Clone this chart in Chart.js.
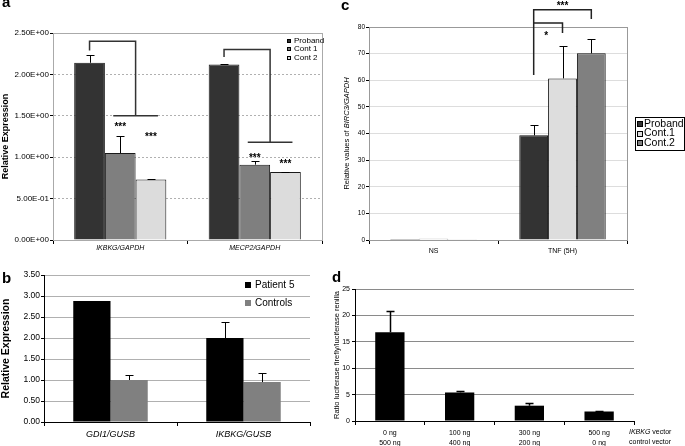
<!DOCTYPE html>
<html>
<head>
<meta charset="utf-8">
<script src="https://cdn.jsdelivr.net/npm/chart.js@4/dist/chart.umd.min.js"></script>
<style>
body { margin: 0; width: 685px; height: 446px; position: relative; overflow: hidden; background: #fff; font-family: "Liberation Sans", Arial, sans-serif; }
.panel { position: absolute; }
.tag { position: absolute; font-weight: bold; font-size: 15px; line-height: 15px; }
</style>
</head>
<body>
<div class="panel" style="left:0;top:0;width:330px;height:260px"><canvas id="chartA"></canvas></div>
<div class="panel" style="left:330px;top:0;width:355px;height:260px"><canvas id="chartC"></canvas></div>
<div class="panel" style="left:0;top:260px;width:330px;height:186px"><canvas id="chartB"></canvas></div>
<div class="panel" style="left:330px;top:260px;width:355px;height:186px"><canvas id="chartD"></canvas></div>
<div class="tag" style="left:2px;top:-6px">a</div>
<div class="tag" style="left:2px;top:270px">b</div>
<div class="tag" style="left:341px;top:-3px">c</div>
<div class="tag" style="left:332px;top:269px">d</div>
<script>
// panel a
const A_CATS = ["IKBKG/GAPDH", "MECP2/GAPDH"];
const A_PROBAND = [2.14, 2.12];
const A_PROBAND_ERR = [0.09, 0.005];
const A_CONT1 = [1.05, 0.91];
const A_CONT1_ERR = [0.21, 0.04];
const A_CONT2 = [0.73, 0.82];
const A_CONT2_ERR = [0.005, 0.005];
const A_TICKS = [0, 0.5, 1, 1.5, 2, 2.5];
const A_BRACKET_TOP = [2.40, 2.30];
const A_BRACKET_STUB = [2.29, 2.21];
const A_BRACKET_LOW = [1.50, 1.18];
const A_STARS_CONT1 = [1.36, 0.99];
const A_STARS_CONT2 = [1.24, 0.91];

// panel b
const B_CATS = ["GDI1/GUSB", "IKBKG/GUSB"];
const B_PATIENT = [2.88, 2.00];
const B_PATIENT_ERR = [0, 0.38];
const B_CONTROLS = [1.00, 0.95];
const B_CONTROLS_ERR = [0.12, 0.21];
const B_TICKS = [0, 0.5, 1, 1.5, 2, 2.5, 3, 3.5];

// panel c
const C_CATS = ["NS", "TNF (5H)"];
const C_PROBAND = [0.4, 39.3];
const C_PROBAND_ERR = [0, 3.9];
const C_CONT1 = [0.5, 60.7];
const C_CONT1_ERR = [0, 12.1];
const C_CONT2 = [0.3, 70.1];
const C_CONT2_ERR = [0, 5.5];
const C_TICKS = [0, 10, 20, 30, 40, 50, 60, 70, 80];
const C_BRACKET_START = 62;
const C_BRACKET_OUTER = [86.5, 83];
const C_BRACKET_INNER = [81.5, 77.7];

// panel d
const D_CATS = [["0 ng", "500 ng"], ["100 ng", "400 ng"], ["300 ng", "200 ng"], ["500 ng", "0 ng"]];
const D_RATIO = [16.8, 5.4, 2.9, 1.8];
const D_ERR = [4.0, 0.2, 0.5, 0.05];
const D_TICKS = [0, 5, 10, 15, 20, 25];

const FONT = '"Liberation Sans", Arial, sans-serif';
Chart.defaults.font.family = FONT;
Chart.defaults.color = "#000";
Chart.defaults.animation = false;
Chart.defaults.plugins.legend.display = false;
Chart.defaults.plugins.tooltip.enabled = false;

function sci(v) {
    if (v === 0) return "0.00E+00";
    const e = Math.floor(Math.log10(v) + 1e-9);
    const m = v / Math.pow(10, e);
    return m.toFixed(2) + "E" + (e < 0 ? "-" : "+") + String(Math.abs(e)).padStart(2, "0");
}

function fixTicks(list) {
    return function (scale) {
        scale.ticks = list.map(v => ({ value: v }));
    };
}

const errorBars = {
    id: "errorBars",
    afterDatasetsDraw(chart, args, opts) {
        const ctx = chart.ctx, y = chart.scales.y;
        ctx.save();
        ctx.strokeStyle = "#000";
        ctx.lineWidth = opts.width || 1;
        chart.data.datasets.forEach((ds, i) => {
            if (!ds.errors) return;
            chart.getDatasetMeta(i).data.forEach((bar, j) => {
                const e = ds.errors[j];
                if (!e) return;
                const x = Math.round(bar.x) + 0.5;
                const top = Math.round(y.getPixelForValue(ds.data[j] + e)) + 0.5;
                ctx.beginPath();
                ctx.moveTo(x, bar.y);
                ctx.lineTo(x, top);
                ctx.moveTo(x - opts.cap, top);
                ctx.lineTo(x + opts.cap, top);
                ctx.stroke();
            });
        });
        ctx.restore();
    }
};

const frame = {
    id: "frame",
    beforeDatasetsDraw(chart, args, opts) {
        if (!opts.color) return;
        const { left, top, right, bottom } = chart.chartArea;
        const ctx = chart.ctx;
        ctx.save();
        ctx.strokeStyle = opts.color;
        ctx.lineWidth = 1;
        ctx.strokeRect(Math.round(left) + 0.5, Math.round(top) + 0.5, Math.round(right - left), Math.round(bottom - top));
        ctx.restore();
    }
};

const boxLegend = {
    id: "boxLegend",
    afterDraw(chart, args, o) {
        if (!o.x) return;
        const ctx = chart.ctx;
        ctx.save();
        ctx.font = o.font;
        ctx.textBaseline = "middle";
        ctx.lineWidth = 1;
        if (o.frame) {
            ctx.strokeStyle = "#000";
            ctx.strokeRect(o.frame[0] + 0.5, o.frame[1] + 0.5, o.frame[2], o.frame[3]);
        }
        chart.data.datasets.forEach((ds, i) => {
            const yy = o.y + i * o.gap;
            ctx.fillStyle = ds.backgroundColor;
            ctx.fillRect(o.x, Math.round(yy - o.box / 2), o.box, o.box);
            if (o.stroke) {
                ctx.strokeStyle = "#000";
                ctx.strokeRect(o.x + 0.5, Math.round(yy - o.box / 2) + 0.5, o.box - 1, o.box - 1);
            }
            ctx.fillStyle = "#000";
            ctx.fillText(ds.label, o.x + o.box + o.pad, yy);
        });
        ctx.restore();
    }
};

// panel a brackets and stars
const bracketsA = {
    id: "bracketsA",
    afterDatasetsDraw(chart) {
        const ctx = chart.ctx, y = chart.scales.y;
        const p = chart.getDatasetMeta(0).data;
        const c1 = chart.getDatasetMeta(1).data;
        const c2 = chart.getDatasetMeta(2).data;
        ctx.save();
        ctx.strokeStyle = "#333";
        ctx.lineWidth = 1.5;
        ctx.fillStyle = "#000";
        ctx.font = "bold 10px " + FONT;
        ctx.textAlign = "center";
        ctx.textBaseline = "middle";
        A_CATS.forEach((_, i) => {
            const x0 = p[i].x;
            const xm = (c1[i].x + c2[i].x) / 2;
            const yt = y.getPixelForValue(A_BRACKET_TOP[i]);
            const ys = y.getPixelForValue(A_BRACKET_STUB[i]);
            const yb = y.getPixelForValue(A_BRACKET_LOW[i]);
            ctx.beginPath();
            ctx.moveTo(x0, ys);
            ctx.lineTo(x0, yt);
            ctx.lineTo(xm, yt);
            ctx.lineTo(xm, yb);
            ctx.moveTo(c1[i].x - 7, yb);
            ctx.lineTo(c2[i].x + 7, yb);
            ctx.stroke();
            ctx.fillText("***", c1[i].x, y.getPixelForValue(A_STARS_CONT1[i]));
            ctx.fillText("***", c2[i].x, y.getPixelForValue(A_STARS_CONT2[i]));
        });
        ctx.restore();
    }
};

// panel c brackets, stars and mixed-style y title
const bracketsC = {
    id: "bracketsC",
    afterDatasetsDraw(chart) {
        const ctx = chart.ctx, y = chart.scales.y;
        const i = 1;
        const xp = chart.getDatasetMeta(0).data[i].x;
        const x1 = chart.getDatasetMeta(1).data[i].x;
        const x2 = chart.getDatasetMeta(2).data[i].x;
        ctx.save();
        ctx.strokeStyle = "#222";
        ctx.lineWidth = 1.5;
        ctx.beginPath();
        ctx.moveTo(xp, y.getPixelForValue(C_BRACKET_START));
        ctx.lineTo(xp, y.getPixelForValue(C_BRACKET_OUTER[0]));
        ctx.lineTo(x2, y.getPixelForValue(C_BRACKET_OUTER[0]));
        ctx.lineTo(x2, y.getPixelForValue(C_BRACKET_OUTER[1]));
        ctx.moveTo(xp, y.getPixelForValue(C_BRACKET_INNER[0]));
        ctx.lineTo(x1, y.getPixelForValue(C_BRACKET_INNER[0]));
        ctx.lineTo(x1, y.getPixelForValue(C_BRACKET_INNER[1]));
        ctx.stroke();
        ctx.fillStyle = "#000";
        ctx.font = "bold 10px " + FONT;
        ctx.textAlign = "center";
        ctx.textBaseline = "middle";
        ctx.fillText("***", (xp + x2) / 2, y.getPixelForValue(C_BRACKET_OUTER[0]) - 3);
        ctx.fillText("*", (xp + x1) / 2 - 2, y.getPixelForValue(C_BRACKET_INNER[1]) + 3);

        // y title: "Relative values of " + italic "BIRC3/GAPDH"
        const t1 = "Relative values of ", t2 = "BIRC3/GAPDH";
        const f1 = "7.5px " + FONT, f2 = "italic 7.5px " + FONT;
        ctx.font = f1;
        const w1 = ctx.measureText(t1).width;
        ctx.font = f2;
        const w2 = ctx.measureText(t2).width;
        const cy = (chart.chartArea.top + chart.chartArea.bottom) / 2;
        ctx.translate(17, cy);
        ctx.rotate(-Math.PI / 2);
        ctx.textAlign = "left";
        ctx.font = f1;
        ctx.fillText(t1, -(w1 + w2) / 2, 0);
        ctx.font = f2;
        ctx.fillText(t2, -(w1 + w2) / 2 + w1, 0);
        ctx.restore();
    }
};

// panel d right-hand row captions
const rowCaptionsD = {
    id: "rowCaptionsD",
    afterDraw(chart) {
        const ctx = chart.ctx;
        const x = chart.chartArea.right - 5;
        const y0 = chart.chartArea.bottom + 11;
        ctx.save();
        ctx.fillStyle = "#000";
        ctx.textBaseline = "middle";
        ctx.font = "italic 7px " + FONT;
        ctx.fillText("IKBKG", x, y0);
        const w = ctx.measureText("IKBKG ").width;
        ctx.font = "7px " + FONT;
        ctx.fillText("vector", x + w, y0);
        ctx.fillText("control vector", x, y0 + 10);
        ctx.restore();
    }
};

new Chart(document.getElementById("chartA"), {
    type: "bar",
    data: {
        labels: A_CATS,
        datasets: [
            { label: "Proband", data: A_PROBAND, errors: A_PROBAND_ERR, backgroundColor: "#333333", borderColor: "#1a1a1a", borderWidth: 1 },
            { label: "Cont 1", data: A_CONT1, errors: A_CONT1_ERR, backgroundColor: "#7f7f7f", borderColor: "#1a1a1a", borderWidth: 1 },
            { label: "Cont 2", data: A_CONT2, errors: A_CONT2_ERR, backgroundColor: "#dcdcdc", borderColor: "#1a1a1a", borderWidth: 1 },
        ],
    },
    options: {
        responsive: true,
        maintainAspectRatio: false,
        layout: { padding: { left: 0, right: 8, top: 33, bottom: 0 } },
        datasets: { bar: { categoryPercentage: 0.685, barPercentage: 1 } },
        scales: {
            x: {
                afterFit(s) { s.height = 20; },
                grid: { offset: true, drawOnChartArea: false, tickLength: 4, tickColor: "#000" },
                border: { color: "#000" },
                ticks: { padding: 0, font: { size: 7, style: "italic" } },
            },
            y: {
                min: 0, max: 2.5,
                afterBuildTicks: fixTicks(A_TICKS),
                afterFit(s) { s.width = 53; },
                grid: { color: "#b0b0b0", tickColor: "#000", tickLength: 3, tickBorderDash: [] },
                border: { color: "#000", dash: [2, 2] },
                ticks: { padding: 1, font: { size: 8 }, callback: v => sci(v) },
                title: { display: true, text: "Relative Expression", padding: 0, font: { size: 9, weight: "bold" } },
            },
        },
        plugins: {
            errorBars: { cap: 4 },
            frame: { color: "#aaaaaa" },
            boxLegend: { x: 287, y: 40.5, gap: 8.5, box: 4, pad: 3, stroke: true, font: "8px " + FONT },
        },
    },
    plugins: [frame, errorBars, bracketsA, boxLegend],
});

new Chart(document.getElementById("chartB"), {
    type: "bar",
    data: {
        labels: B_CATS,
        datasets: [
            { label: "Patient 5", data: B_PATIENT, errors: B_PATIENT_ERR, backgroundColor: "#000000" },
            { label: "Controls", data: B_CONTROLS, errors: B_CONTROLS_ERR, backgroundColor: "#808080" },
        ],
    },
    options: {
        responsive: true,
        maintainAspectRatio: false,
        layout: { padding: { left: 0, right: 20, top: 15, bottom: 0 } },
        datasets: { bar: { categoryPercentage: 0.56, barPercentage: 1 } },
        scales: {
            x: {
                afterFit(s) { s.height = 24; },
                grid: { offset: true, drawOnChartArea: false, tickLength: 4, tickColor: "#000" },
                border: { color: "#000" },
                ticks: { padding: 3, font: { size: 9, style: "italic" } },
            },
            y: {
                min: 0, max: 3.5,
                afterBuildTicks: fixTicks(B_TICKS),
                afterFit(s) { s.width = 44; },
                grid: { color: "#b0b0b0", tickColor: "#000", tickLength: 3 },
                border: { color: "#000" },
                ticks: { padding: 1, font: { size: 8.5 }, callback: v => v.toFixed(2) },
                title: { display: true, text: "Relative Expression", padding: 0, font: { size: 10.5, weight: "bold" } },
            },
        },
        plugins: {
            errorBars: { cap: 4 },
            boxLegend: { x: 245, y: 25, gap: 18, box: 6, pad: 4, font: "10px " + FONT },
        },
    },
    plugins: [errorBars, boxLegend],
});

new Chart(document.getElementById("chartC"), {
    type: "bar",
    data: {
        labels: C_CATS,
        datasets: [
            { label: "Proband", data: C_PROBAND, errors: C_PROBAND_ERR, backgroundColor: "#333333", borderColor: "#111", borderWidth: 1 },
            { label: "Cont.1", data: C_CONT1, errors: C_CONT1_ERR, backgroundColor: "#dddddd", borderColor: "#111", borderWidth: 1 },
            { label: "Cont.2", data: C_CONT2, errors: C_CONT2_ERR, backgroundColor: "#808080", borderColor: "#111", borderWidth: 1 },
        ],
    },
    options: {
        responsive: true,
        maintainAspectRatio: false,
        layout: { padding: { left: 0, right: 58, top: 27, bottom: 0 } },
        datasets: { bar: { categoryPercentage: 0.67, barPercentage: 1 } },
        scales: {
            x: {
                afterFit(s) { s.height = 20; },
                grid: { offset: true, drawOnChartArea: false, tickLength: 4, tickColor: "#000" },
                border: { color: "#000" },
                ticks: { padding: 3, font: { size: 7 } },
            },
            y: {
                min: 0, max: 80,
                afterBuildTicks: fixTicks(C_TICKS),
                afterFit(s) { s.width = 39; },
                grid: { color: "#dddddd", tickColor: "#000", tickLength: 3 },
                border: { color: "#000" },
                ticks: { padding: 1, font: { size: 6.5 } },
            },
        },
        plugins: {
            errorBars: { cap: 4 },
            frame: { color: "#999999" },
            boxLegend: { x: 307, y: 124, gap: 9.5, box: 6, pad: 1, stroke: true, frame: [305, 117, 49, 33], font: "10.5px " + FONT },
        },
    },
    plugins: [frame, errorBars, bracketsC, boxLegend],
});

new Chart(document.getElementById("chartD"), {
    type: "bar",
    data: {
        labels: D_CATS,
        datasets: [
            { label: "Ratio", data: D_RATIO, errors: D_ERR, backgroundColor: "#000000" },
        ],
    },
    options: {
        responsive: true,
        maintainAspectRatio: false,
        layout: { padding: { left: 0, right: 51, top: 29, bottom: 0 } },
        datasets: { bar: { categoryPercentage: 0.42, barPercentage: 1 } },
        scales: {
            x: {
                afterFit(s) { s.height = 25; },
                grid: { offset: true, drawOnChartArea: false, tickLength: 4, tickColor: "#000" },
                border: { color: "#000" },
                ticks: { padding: 3, font: { size: 7, lineHeight: 1.4 } },
            },
            y: {
                min: 0, max: 25,
                afterBuildTicks: fixTicks(D_TICKS),
                afterFit(s) { s.width = 25; },
                grid: { color: "#8a8a8a", tickColor: "#000", tickLength: 3 },
                border: { color: "#000" },
                ticks: { padding: 2, font: { size: 7 } },
                title: { display: true, text: "Ratio luciferase firefly/luciferase renilla", padding: { top: 2.5, bottom: 0 }, font: { size: 7.5 } },
            },
        },
        plugins: {
            errorBars: { cap: 4, width: 1.5 },
        },
    },
    plugins: [errorBars, rowCaptionsD],
});
</script>
</body>
</html>
